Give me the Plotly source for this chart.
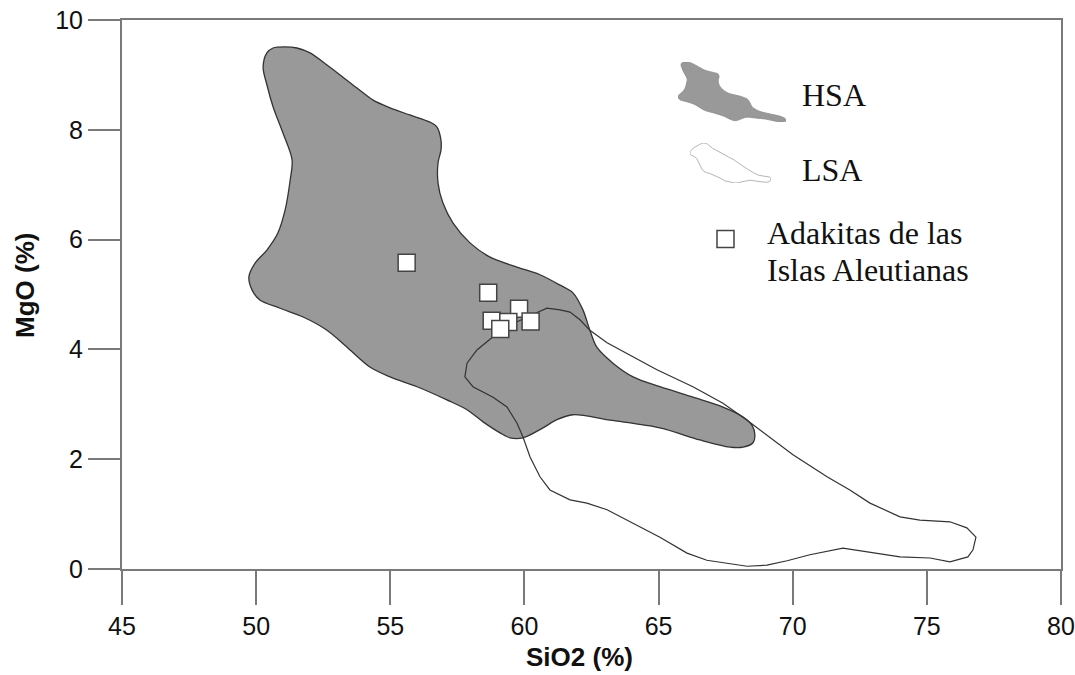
import plotly.graph_objects as go

# ---------------- data ----------------
# HSA field outline (SiO2 %, MgO %)
hsa_sio2 = [50.26, 50.40, 50.63, 51.08, 51.52, 52.01, 52.64, 53.13, 53.76, 54.36,
            54.99, 55.73, 56.48, 56.74, 56.89, 56.89, 56.78, 56.78, 56.96, 57.34,
            57.97, 58.72, 59.72, 60.58, 61.33, 61.81, 62.18, 62.44, 62.70, 63.30,
            64.05, 65.05, 66.28, 67.40, 68.15, 68.48, 68.59, 68.52, 68.15, 67.66,
            66.54, 65.05, 63.19, 61.81, 61.21, 60.69, 59.95, 59.46, 59.09, 58.46,
            57.86, 57.11, 56.00, 54.99, 54.24, 53.39, 52.64, 51.75, 50.89, 50.14,
            49.85, 49.73, 49.96, 50.40, 50.81, 51.08, 51.27, 51.34, 51.00, 50.63,
            50.40, 50.26]
hsa_mgo = [9.14, 9.40, 9.49, 9.51, 9.49, 9.40, 9.18, 9.00, 8.76, 8.54,
           8.40, 8.27, 8.14, 8.05, 7.81, 7.63, 7.40, 7.03, 6.67, 6.30,
           5.94, 5.68, 5.50, 5.36, 5.17, 5.03, 4.72, 4.35, 4.04, 3.75,
           3.50, 3.32, 3.13, 2.95, 2.77, 2.62, 2.44, 2.30, 2.22, 2.22,
           2.35, 2.57, 2.71, 2.81, 2.72, 2.57, 2.39, 2.39, 2.48, 2.68,
           2.90, 3.08, 3.32, 3.50, 3.68, 4.04, 4.35, 4.59, 4.75, 4.90,
           5.08, 5.32, 5.57, 5.81, 6.12, 6.54, 7.09, 7.45, 7.94, 8.42,
           8.82, 9.14]

# LSA field outline (SiO2 %, MgO %)
lsa_sio2 = [58.83, 59.46, 60.10, 60.58, 60.84, 61.33, 61.70, 62.07, 62.44, 63.08,
            63.82, 64.94, 66.28, 67.40, 68.30, 69.15, 70.01, 71.28, 72.13, 72.88,
            74.00, 74.74, 75.86, 76.49, 76.83, 76.72, 76.53, 75.86, 75.12, 74.00,
            72.88, 71.87, 70.64, 69.79, 69.04, 68.30, 66.80, 66.06, 65.05, 64.05,
            63.08, 62.33, 61.70, 60.95, 60.58, 60.21, 59.95, 59.72, 59.35, 58.83,
            58.08, 57.78, 57.86, 58.23, 58.83]
lsa_mgo = [4.23, 4.44, 4.59, 4.70, 4.75, 4.72, 4.68, 4.54, 4.35, 4.12,
           3.93, 3.63, 3.32, 3.02, 2.71, 2.40, 2.08, 1.68, 1.44, 1.20,
           0.95, 0.89, 0.86, 0.75, 0.58, 0.35, 0.22, 0.13, 0.20, 0.22,
           0.31, 0.38, 0.26, 0.15, 0.07, 0.05, 0.16, 0.29, 0.58, 0.84,
           1.08, 1.20, 1.26, 1.44, 1.68, 2.04, 2.40, 2.66, 2.95, 3.13,
           3.32, 3.50, 3.75, 3.99, 4.23]

# Adakites of the Aleutian Islands
adak_sio2 = [55.61, 58.65, 59.80, 58.78, 59.40, 60.23, 59.10]
adak_mgo = [5.58, 5.03, 4.74, 4.52, 4.50, 4.51, 4.37]

x_ticks = [45, 50, 55, 60, 65, 70, 75, 80]
y_ticks = [0, 2, 4, 6, 8, 10]

x_title = "SiO2 (%)"
y_title = "MgO (%)"
legend_labels = ["HSA", "LSA", "Adakitas de las", "Islas Aleutianas"]

# ---------------- figure ----------------
HSA_FILL = "#999999"
LINE = "#333333"
AXIS = "#7a7a7a"

fig = go.Figure()

fig.add_trace(go.Scatter(
    x=hsa_sio2, y=hsa_mgo, mode="lines", fill="toself", fillcolor=HSA_FILL,
    line=dict(color=LINE, width=1.3, shape="spline", smoothing=0.9),
    showlegend=False, hoverinfo="skip"))

fig.add_trace(go.Scatter(
    x=lsa_sio2, y=lsa_mgo, mode="lines",
    line=dict(color=LINE, width=1.2),
    showlegend=False, hoverinfo="skip"))

fig.add_trace(go.Scatter(
    x=adak_sio2, y=adak_mgo, mode="markers",
    marker=dict(symbol="square", size=17, color="white",
                line=dict(color="#444444", width=1.5)),
    showlegend=False))

# legend icons drawn from the field outlines on small hidden axes
fig.add_trace(go.Scatter(
    x=hsa_sio2, y=hsa_mgo, mode="lines", fill="toself", fillcolor=HSA_FILL,
    line=dict(color="#8c8c8c", width=0.8, shape="spline", smoothing=0.9),
    xaxis="x3", yaxis="y3", showlegend=False, hoverinfo="skip"))
fig.add_trace(go.Scatter(
    x=lsa_sio2, y=lsa_mgo, mode="lines",
    line=dict(color="#b5b5b5", width=1.0),
    xaxis="x4", yaxis="y4", showlegend=False, hoverinfo="skip"))

tick_font = dict(family="Liberation Sans, Arial, sans-serif", size=25, color="#111111")
title_font = dict(family="Liberation Sans, Arial, sans-serif", size=26, color="#111111")

fig.update_layout(
    width=1075, height=675,
    margin=dict(l=122, r=14, t=20, b=106),
    paper_bgcolor="white", plot_bgcolor="white",
    xaxis=dict(range=[45, 80], tickvals=x_ticks, ticktext=[str(v) for v in x_ticks],
               showgrid=False, zeroline=False, showline=True, linecolor=AXIS,
               linewidth=2, mirror=True, ticks="outside", ticklen=34, tickwidth=1.5,
               tickcolor=AXIS, tickfont=tick_font, automargin=False,
               ticklabeloverflow="allow"),
    yaxis=dict(range=[0, 10], tickvals=y_ticks, ticktext=[str(v) for v in y_ticks],
               showgrid=False, zeroline=False, showline=True, linecolor=AXIS,
               linewidth=2, mirror=True, ticks="outside", ticklen=32, tickwidth=1.5,
               tickcolor=AXIS, tickfont=tick_font, automargin=False,
               ticklabeloverflow="allow"),
    xaxis3=dict(domain=[0.5921, 0.7071], range=[min(hsa_sio2), max(hsa_sio2)],
                visible=False, anchor="y3", fixedrange=True),
    yaxis3=dict(domain=[0.8142, 0.9235], range=[min(hsa_mgo), max(hsa_mgo)],
                visible=False, anchor="x3", fixedrange=True),
    xaxis4=dict(domain=[0.6049, 0.6912], range=[min(lsa_sio2), max(lsa_sio2)],
                visible=False, anchor="y4", fixedrange=True),
    yaxis4=dict(domain=[0.7031, 0.7760], range=[min(lsa_mgo), max(lsa_mgo)],
                visible=False, anchor="x4", fixedrange=True),
    showlegend=False,
)

# axis titles
fig.add_annotation(text="<b>" + x_title + "</b>", x=0.4867, y=-0.160,
                   xref="paper", yref="paper", xanchor="center", yanchor="middle",
                   showarrow=False, font=title_font)
fig.add_annotation(text="<b>" + y_title + "</b>", x=-0.1033, y=0.5155, textangle=-90,
                   xref="paper", yref="paper", xanchor="center", yanchor="middle",
                   showarrow=False, font=title_font)

serif = dict(family="Liberation Serif, Times New Roman, serif", size=32, color="#111111")
ann_pos = [(0.7220, 0.8634), (0.7220, 0.7268), (0.6848, 0.6120), (0.6848, 0.5446)]
for label, (ax, ay) in zip(legend_labels, ann_pos):
    fig.add_annotation(text=label, x=ax, y=ay, xref="paper", yref="paper",
                       xanchor="left", yanchor="middle", showarrow=False, font=serif)

# legend glyph for the adakite markers
fig.add_shape(type="rect", xref="paper", yref="paper",
              xsizemode="pixel", ysizemode="pixel",
              xanchor=0.6427, yanchor=0.6011,
              x0=-8.5, x1=8.5, y0=-8.5, y1=8.5,
              line=dict(color="#444444", width=1.5), fillcolor="white")

fig.write_html(
    "out.html",
    config={"displayModeBar": False},
    post_script="document.body.style.margin='0';document.body.style.overflow='hidden';",
)
